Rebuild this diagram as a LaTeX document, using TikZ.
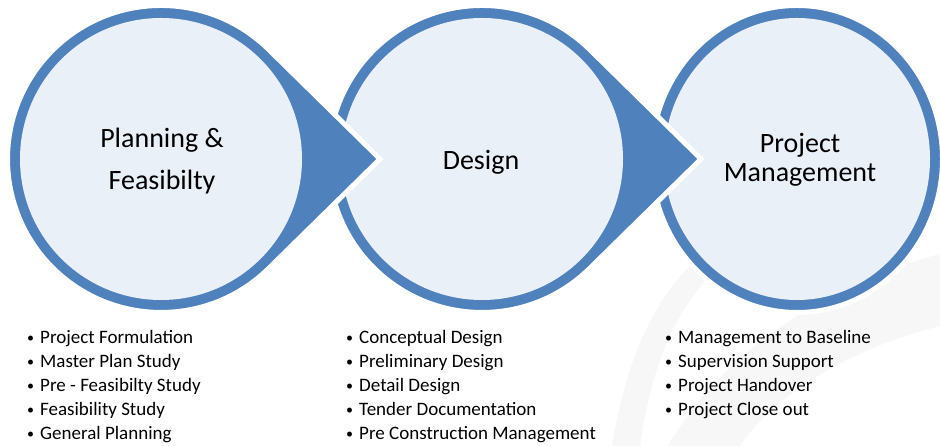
\documentclass[tikz,border=0pt]{standalone}
\usepackage{fontspec}
\setmainfont{Carlito}
\definecolor{ringblue}{HTML}{4F81BD}
\definecolor{innerfill}{HTML}{EAF0F8}
\definecolor{swoosh}{HTML}{F7F7F7}
\tikzset{
  outershape/.style={fill=ringblue, draw=white, line width=5bp},
  innershape/.style={fill=innerfill},
  titletext/.style={anchor=base, inner sep=0pt, font=\fontsize{28bp}{34bp}\selectfont},
  bullettext/.style={anchor=base west, inner sep=0pt, font=\fontsize{19bp}{24bp}\selectfont},
}
\newcommand{\bul}[1]{\makebox[13bp][l]{\raisebox{1.5bp}{\fontsize{14bp}{14bp}\selectfont\textbullet}}#1}
\begin{document}
\begin{tikzpicture}[x=1bp,y=1bp]
\useasboundingbox (0,0) rectangle (940,446);
\clip (0,0) rectangle (940,446);
\fill[white] (0,0) rectangle (940,446);
% faint background swooshes
\fill[swoosh] (612,0) .. controls (625,80) and (650,140) .. (690,180) -- (712,172) .. controls (670,130) and (650,70) .. (640,0) -- cycle;
\fill[swoosh] (668,0) .. controls (720,90) and (820,160) .. (940,192) -- (940,120) .. controls (840,95) and (770,45) .. (740,0) -- cycle;
% centres
\coordinate (c1) at (161,287);
\coordinate (c2) at (482,287);
\coordinate (c3) at (797,287);
% third circle (no arrow)
\path[outershape] (c3) ellipse [x radius=145.5bp, y radius=153.5bp];
\path[innershape] (c3) ellipse [x radius=133bp, y radius=141bp];
% second circle with arrow
\coordinate (tip2) at (701,287);
\path[outershape] (tip2) -- (589.6,396.5) arc[start angle=45.5, end angle=314.5, radius=153.5bp] -- cycle;
\path[innershape] (c2) circle[radius=141bp];
% first circle with arrow
\coordinate (tip1) at (380,287);
\path[outershape] (tip1) -- (268.6,396.5) arc[start angle=45.5, end angle=314.5, radius=153.5bp] -- cycle;
\path[innershape] (c1) circle[radius=141bp];
% titles
\node[titletext] (t1a) at (162,298) {Planning \&};
\node[titletext] (t1b) at (162,256) {Feasibilty};
\node[titletext] (t2) at (481,276) {Design};
\node[titletext] (t3a) at (800,293) {Project};
\node[titletext] (t3b) at (800,264) {Management};
% bullet lists
\foreach \t [count=\i] in {Project Formulation, Master Plan Study, Pre - Feasibilty Study, Feasibility Study, General Planning}
  \node[bullettext] (a\i) at (27,{126-24*\i}) {\bul{\t}};
\foreach \t [count=\i] in {Conceptual Design, Preliminary Design, Detail Design, Tender Documentation, Pre Construction Management}
  \node[bullettext] (b\i) at (346,{126-24*\i}) {\bul{\t}};
\foreach \t [count=\i] in {Management to Baseline, Supervision Support, Project Handover, Project Close out}
  \node[bullettext] (c\i) at (665,{126-24*\i}) {\bul{\t}};
\end{tikzpicture}
\end{document}
